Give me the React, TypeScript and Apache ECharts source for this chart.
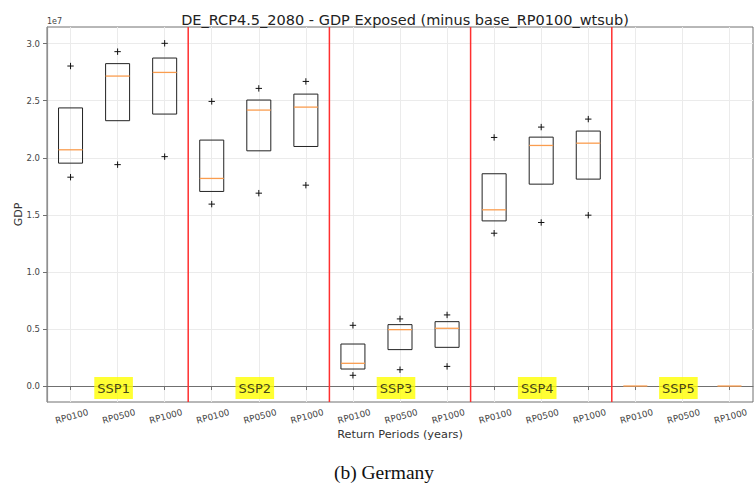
import React, { useEffect, useRef } from "react";
import * as echarts from "echarts";

// Values in units of 1e7 (matplotlib offset text "1e7")
const returnPeriods = ["RP0100", "RP0500", "RP1000"];
const scenarios = ["SSP1", "SSP2", "SSP3", "SSP4", "SSP5"];
const categories = scenarios.flatMap(() => returnPeriods);

const lowMarker = [1.83, 1.94, 2.01, 1.594, 1.69, 1.76, 0.094, 0.143, 0.172, 1.339, 1.433, 1.497, null, null, null];
const q1 = [1.953, 2.325, 2.383, 1.705, 2.061, 2.099, 0.149, 0.319, 0.339, 1.447, 1.769, 1.813, 0, 0, 0];
const median = [2.07, 2.716, 2.748, 1.819, 2.418, 2.444, 0.199, 0.494, 0.506, 1.544, 2.108, 2.128, 0, 0, 0];
const q3 = [2.437, 2.825, 2.874, 2.155, 2.506, 2.558, 0.368, 0.538, 0.564, 1.86, 2.181, 2.234, 0, 0, 0];
const highMarker = [2.804, 2.93, 3.003, 2.494, 2.608, 2.669, 0.532, 0.588, 0.623, 2.178, 2.269, 2.339, null, null, null];

const yTicks = [0, 0.5, 1.0, 1.5, 2.0, 2.5, 3.0];

const title = "DE_RCP4.5_2080 - GDP Exposed (minus base_RP0100_wtsub)";
const caption = "(b) Germany";

export default function App() {
  const ref = useRef<HTMLDivElement>(null);
  useEffect(() => {
    if (!ref.current) return;
    const chart = echarts.init(ref.current, null, { renderer: "svg" });
    const font = "DejaVu Sans";
    const boxData = categories.map((_, i) => [
      i,
      lowMarker[i] == null ? NaN : lowMarker[i],
      q1[i],
      median[i],
      q3[i],
      highMarker[i] == null ? NaN : highMarker[i],
    ]);
    const option: any = {
      animation: false,
      textStyle: { fontFamily: font },
      title: {
        text: title,
        left: 400,
        textAlign: "center",
        top: 7,
        textStyle: { fontFamily: font, fontSize: 14.5, fontWeight: "normal", color: "#222" },
      },
      grid: {
        left: 47,
        top: 27,
        width: 706,
        height: 375,
        outerBoundsMode: "none",
        containLabel: false,
        show: true,
        borderColor: "#707070",
        borderWidth: 1,
        backgroundColor: "transparent",
      },
      xAxis: {
        type: "category",
        data: categories,
        name: "Return Periods (years)",
        nameLocation: "middle",
        nameMoveOverlap: false,
        nameGap: 27,
        nameTextStyle: { fontFamily: font, fontSize: 11.3, color: "#333" },
        axisLine: { show: true, lineStyle: { color: "#707070", width: 1 } },
        axisTick: { show: true, alignWithLabel: true, interval: 0, length: 4, lineStyle: { color: "#707070" } },
        axisLabel: {
          interval: 0,
          rotate: 15,
          align: "center",
          verticalAlign: "top",
          margin: 10,
          fontFamily: font,
          fontSize: 8.8,
          color: "#444",
        },
        splitLine: { show: true, interval: 0, alignWithLabel: true, lineStyle: { color: "#ebebeb", width: 1 } },
      },
      yAxis: {
        type: "value",
        min: -0.14,
        max: 3.146,
        name: "GDP",
        nameLocation: "middle",
        nameMoveOverlap: false,
        nameGap: 23,
        nameTextStyle: { fontFamily: font, fontSize: 11, color: "#333" },
        axisLine: { show: true, lineStyle: { color: "#909090", width: 1.2 } },
        axisTick: { show: true, length: 4, customValues: yTicks, lineStyle: { color: "#707070" } },
        axisLabel: {
          customValues: yTicks,
          formatter: (v: number) => v.toFixed(1),
          margin: 7,
          fontFamily: font,
          fontSize: 8.5,
          color: "#444",
        },
        splitLine: { show: true, lineStyle: { color: "#ebebeb", width: 1 } },
      },
      graphic: [
        {
          type: "text",
          left: 47,
          top: 17,
          style: { text: "1e7", font: `8px ${font}`, fill: "#444" },
        },
        {
          type: "text",
          x: 384,
          y: 472,
          style: {
            text: caption,
            font: `19.5px "Liberation Serif"`,
            fill: "#111",
            align: "center",
            verticalAlign: "middle",
          },
        },
      ],
      series: [
        {
          type: "custom",
          name: "boxes",
          data: boxData,
          z: 3,
          renderItem: (params: any, api: any) => {
            const idx = api.value(0);
            const lo = api.value(1);
            const a = api.value(2);
            const m = api.value(3);
            const b = api.value(4);
            const hi = api.value(5);
            const band = api.size([1, 0])[0];
            const w = band * 0.51;
            const cx = api.coord([idx, a])[0];
            const yA = api.coord([idx, a])[1];
            const yB = api.coord([idx, b])[1];
            const yM = api.coord([idx, m])[1];
            const children: any[] = [];
            if (b > a) {
              children.push({
                type: "rect",
                shape: { x: cx - w / 2, y: yB, width: w, height: yA - yB },
                style: { fill: "none", stroke: "#222", lineWidth: 1 },
              });
            }
            children.push({
              type: "line",
              shape: { x1: cx - w / 2, y1: yM, x2: cx + w / 2, y2: yM },
              style: { stroke: "#fa9d4f", lineWidth: 1.3 },
            });
            const plus = (v: number) => {
              if (!isFinite(v)) return;
              const [px, py] = api.coord([idx, v]);
              const s = 3.2;
              children.push({ type: "line", shape: { x1: px - s, y1: py, x2: px + s, y2: py }, style: { stroke: "#111", lineWidth: 1 } });
              children.push({ type: "line", shape: { x1: px, y1: py - s, x2: px, y2: py + s }, style: { stroke: "#111", lineWidth: 1 } });
            };
            plus(lo);
            plus(hi);
            return { type: "group", children };
          },
        },
        {
          type: "custom",
          name: "separators",
          z: 4,
          data: scenarios.slice(0, -1).map((_, g) => [g * returnPeriods.length + returnPeriods.length - 1, 0]),
          renderItem: (params: any, api: any) => {
            const band = api.size([1, 0])[0];
            const x = api.coord([api.value(0), 0])[0] + band / 2;
            const cs = params.coordSys;
            return {
              type: "line",
              shape: { x1: x, y1: cs.y, x2: x, y2: cs.y + cs.height },
              style: { stroke: "#ff2f2f", lineWidth: 1.5 },
            };
          },
        },
        {
          type: "scatter",
          name: "labels",
          z: 5,
          symbolSize: 2,
          itemStyle: { color: "rgba(0,0,0,0)" },
          data: scenarios.map((s, g) => ({ name: s, value: [g * returnPeriods.length + 1, 0] })),
          label: {
            show: true,
            position: "inside",
            formatter: "{b}",
            offset: [-4, 2],
            backgroundColor: "#ffff00",
            color: "#111",
            fontFamily: font,
            fontSize: 13,
            padding: [5, 3, 4, 3],
          },
        },
      ],
    };
    chart.setOption(option);
    return () => chart.dispose();
  }, []);
  return (
    <div
      ref={ref}
      style={{ position: "fixed", left: 0, top: 0, width: 754, height: 485, background: "#fff" }}
    />
  );
}
